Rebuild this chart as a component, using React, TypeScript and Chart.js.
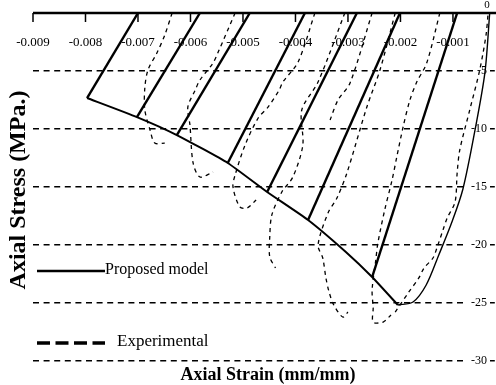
import React, { useEffect, useRef } from "react";
import { Chart, registerables } from "chart.js";

Chart.register(...registerables);

// ---- axis ticks ----
const strainTicks = [-0.009, -0.008, -0.007, -0.006, -0.005, -0.004, -0.003, -0.002, -0.001, 0];
const strainTickLabels = ["-0.009", "-0.008", "-0.007", "-0.006", "-0.005", "-0.004", "-0.003", "-0.002", "-0.001", ""];
const stressTicks = [-5, -10, -15, -20, -25, -30];
const stressTickLabels = ["-5", "-10", "-15", "-20", "-25", "-30"];

// ---- proposed model ----
const envelopeStrain = [-0.00797, -0.00702, -0.00626, -0.00529, -0.00454, -0.00376, -0.00304, -0.00254, -0.00205];
const envelopeStress = [-7.33, -8.97, -10.52, -12.93, -15.43, -17.84, -20.6, -22.76, -25.17];
const ascendingStrain = [-0.00205, -0.00176, -0.00151, -0.00127, -0.00102, -0.00081, -0.00058, -0.00039, -0.0003];
const ascendingStress = [-25.17, -24.91, -23.45, -20.86, -18.02, -15.17, -10.09, -5.09, 0];
const unloadTopStrain = [-0.007, -0.00582, -0.00487, -0.00382, -0.00283, -0.00201, -0.00092];
const unloadBottomStrain = [-0.00797, -0.00702, -0.00626, -0.00529, -0.00454, -0.00376, -0.00254];
const unloadBottomStress = [-7.33, -8.97, -10.52, -12.93, -15.43, -17.84, -22.76];

// ---- experimental ----
const exp1Strain = [-0.00635, -0.00649, -0.00664, -0.00681, -0.00687, -0.00687, -0.00677, -0.00668, -0.00649];
const exp1Stress = [0, -1.9, -3.45, -4.91, -6.47, -8.36, -10.09, -11.21, -11.21];
const exp2Strain = [-0.00515, -0.00548, -0.00557, -0.00582, -0.00591, -0.00605, -0.00601, -0.00595, -0.00582, -0.00557];
const exp2Stress = [0, -3.45, -4.31, -5.78, -6.64, -8.1, -9.66, -12.93, -14.14, -13.71];
const exp3Strain = [-0.00363, -0.00395, -0.00424, -0.00431, -0.00452, -0.00471, -0.00496, -0.00515, -0.00519, -0.00506, -0.00492, -0.00475];
const exp3Stress = [0, -4.22, -5.95, -6.64, -8.1, -9.05, -11.38, -13.97, -15.0, -16.72, -16.81, -16.12];
const exp4Strain = [-0.00306, -0.00357, -0.00388, -0.00386, -0.00405, -0.00426, -0.00445, -0.00449, -0.00449, -0.00438];
const exp4Stress = [0, -5.95, -8.36, -11.38, -14.14, -15.43, -17.41, -19.31, -21.03, -21.98];
const exp5Strain = [-0.00254, -0.00296, -0.00319, -0.00334];
const exp5Stress = [0, -6.03, -7.5, -9.22];
const exp6Strain = [-0.0021, -0.00239, -0.00264, -0.00302, -0.00321, -0.00338, -0.00357, -0.00348, -0.00342, -0.00336, -0.00327, -0.0031, -0.003];
const exp6Stress = [0, -4.91, -8.1, -13.79, -15.95, -17.24, -20.0, -21.12, -22.84, -24.05, -25.17, -26.21, -25.78];
const exp7Strain = [-0.00125, -0.0015, -0.00169, -0.00182, -0.00195, -0.00207, -0.00216, -0.0023, -0.00243, -0.00247, -0.00254, -0.00252, -0.00252, -0.00233, -0.00218];
const exp7Stress = [0, -4.31, -5.95, -7.5, -9.83, -12.41, -14.4, -16.98, -19.83, -21.29, -23.88, -25.43, -26.64, -26.64, -26.03];
const exp8Strain = [-0.0021, -0.00184, -0.00165, -0.00155, -0.00138, -0.0013, -0.00119, -0.00111, -0.00096, -0.00092, -0.00087, -0.00068, -0.00049, -0.00037, -0.00033];
const exp8Stress = [-25.78, -24.05, -22.84, -21.98, -21.12, -20.17, -18.71, -17.67, -16.29, -13.79, -11.81, -8.36, -4.91, -1.9, 0];

const seriesNames = ["Proposed model", "Experimental"];
const axisTitles = ["Axial Strain (mm/mm)", "Axial Stress (MPa.)"];

const pts = (xs: number[], ys: number[]) => xs.map((x, i) => ({ x, y: ys[i] }));

const SERIF = '"Liberation Serif", "Times New Roman", serif';

const decorPlugin = {
  id: "decor",
  beforeDatasetsDraw(chart: any) {
    const ctx = chart.ctx;
    const ys = chart.scales.y;
    ctx.save();
    ctx.font = `12px ${SERIF}`;
    ctx.textAlign = "right";
    ctx.textBaseline = "middle";
    stressTicks.forEach((v, i) => {
      const y = ys.getPixelForValue(v);
      const w = ctx.measureText(stressTickLabels[i]).width;
      ctx.fillStyle = "#fff";
      ctx.fillRect(487 - w - 4, y - 5, w + 7, 10);
      ctx.fillStyle = "#000";
      ctx.fillText(stressTickLabels[i], 487, y);
    });
    ctx.restore();
  },
  afterDatasetsDraw(chart: any) {
    const ctx = chart.ctx;
    const xs = chart.scales.x;
    const area = chart.chartArea;
    ctx.save();
    ctx.strokeStyle = "#000";
    ctx.fillStyle = "#000";
    // top axis line
    ctx.lineWidth = 2.5;
    ctx.beginPath();
    ctx.moveTo(area.left, area.top);
    ctx.lineTo(area.right, area.top);
    ctx.stroke();
    // tick marks + labels
    ctx.lineWidth = 1.5;
    ctx.font = `13px ${SERIF}`;
    ctx.textAlign = "center";
    ctx.textBaseline = "middle";
    strainTicks.forEach((v, i) => {
      const x = xs.getPixelForValue(v);
      if (x > area.right + 1) return;
      ctx.beginPath();
      ctx.moveTo(x, area.top);
      ctx.lineTo(x, area.top + 9);
      ctx.stroke();
      ctx.fillText(strainTickLabels[i], x, area.top + 30);
    });
    // "0" label at top right
    ctx.font = `11px ${SERIF}`;
    ctx.fillText("0", 487, 5);
    // axis titles
    ctx.font = `bold 18px ${SERIF}`;
    ctx.textBaseline = "alphabetic";
    ctx.fillText(axisTitles[0], 268, 380);
    ctx.save();
    ctx.translate(19, 190);
    ctx.rotate(-Math.PI / 2);
    ctx.font = `bold 24px ${SERIF}`;
    ctx.textBaseline = "middle";
    ctx.fillText(axisTitles[1], 0, 0);
    ctx.restore();
    // legend
    ctx.lineWidth = 2.5;
    ctx.setLineDash([]);
    ctx.beginPath();
    ctx.moveTo(37, 271);
    ctx.lineTo(105, 271);
    ctx.stroke();
    ctx.font = `16px ${SERIF}`;
    ctx.textAlign = "left";
    ctx.textBaseline = "middle";
    ctx.fillText(seriesNames[0], 105, 270);
    ctx.lineWidth = 3.5;
    ctx.setLineDash([13, 5.5]);
    ctx.beginPath();
    ctx.moveTo(37, 343);
    ctx.lineTo(105, 343);
    ctx.stroke();
    ctx.setLineDash([]);
    ctx.font = `17px ${SERIF}`;
    ctx.fillText(seriesNames[1], 117, 342);
    ctx.restore();
  },
};

export default function App() {
  const ref = useRef<HTMLCanvasElement | null>(null);
  useEffect(() => {
    if (!ref.current) return;
    const modelStyle = {
      showLine: true,
      borderColor: "#000",
      backgroundColor: "#000",
      pointRadius: 0,
      fill: false,
    };
    const expStyle = {
      showLine: true,
      borderColor: "#000",
      backgroundColor: "#000",
      pointRadius: 0,
      fill: false,
      borderWidth: 1.3,
      borderDash: [4, 4],
      tension: 0.3,
    };
    const unloadSets = unloadTopStrain.map((x, i) => ({
      ...modelStyle,
      label: seriesNames[0],
      borderWidth: 2.4,
      data: [
        { x, y: 0 },
        { x: unloadBottomStrain[i], y: unloadBottomStress[i] },
      ],
    }));
    const expPairs: [number[], number[]][] = [
      [exp1Strain, exp1Stress],
      [exp2Strain, exp2Stress],
      [exp3Strain, exp3Stress],
      [exp4Strain, exp4Stress],
      [exp5Strain, exp5Stress],
      [exp6Strain, exp6Stress],
      [exp7Strain, exp7Stress],
      [exp8Strain, exp8Stress],
    ];
    const expSets = expPairs.map(([xs, ys]) => ({
      ...expStyle,
      label: seriesNames[1],
      data: pts(xs, ys),
    }));
    const chart = new Chart(ref.current, {
      type: "scatter",
      data: {
        datasets: [
          ...expSets,
          { ...modelStyle, label: seriesNames[0], borderWidth: 2, tension: 0.15, data: pts(envelopeStrain, envelopeStress) },
          { ...modelStyle, label: seriesNames[0], borderWidth: 1.4, tension: 0.3, data: pts(ascendingStrain, ascendingStress) },
          ...unloadSets,
        ],
      },
      options: {
        animation: false,
        responsive: false,
        maintainAspectRatio: false,
        layout: { padding: { left: 33, top: 13, right: 0, bottom: 24 } },
        plugins: { legend: { display: false }, tooltip: { enabled: false } },
        scales: {
          x: { type: "linear", display: false, min: -0.009, max: -0.00018 },
          y: {
            type: "linear",
            position: "left",
            min: -30,
            max: 0,
            ticks: { display: false, stepSize: 5 },
            grid: { color: "#000", lineWidth: 1.4, drawTicks: false },
            border: { display: false, dash: [6, 4.6] },
          },
        },
      },
      plugins: [decorPlugin],
    } as any);
    return () => chart.destroy();
  }, []);
  return (
    <div style={{ position: "fixed", left: 0, top: 0, width: 496, height: 385, background: "#fff" }}>
      <canvas ref={ref} width={496} height={385} style={{ display: "block" }} />
    </div>
  );
}
